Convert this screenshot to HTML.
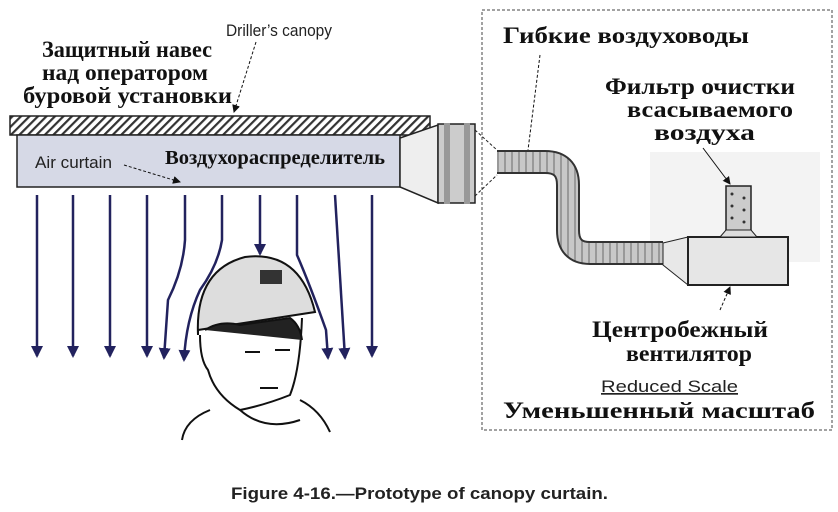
<!DOCTYPE html>
<html><head><meta charset="utf-8"><style>
body{margin:0;background:#fff;width:838px;height:512px;overflow:hidden}
svg{display:block}
.ru{font-family:"Liberation Serif","Noto Serif CJK SC",serif;font-weight:bold;fill:#111}
.en{font-family:"Liberation Sans",sans-serif;fill:#222}
</style></head><body>
<svg width="838" height="512" viewBox="0 0 838 512">
<defs>
<pattern id="h" width="6" height="6" patternUnits="userSpaceOnUse" patternTransform="rotate(45)">
<rect width="6" height="6" fill="#fff"/><rect width="2.2" height="6" fill="#333"/></pattern>
<marker id="a" markerWidth="12" markerHeight="12" refX="10" refY="6" orient="auto" markerUnits="userSpaceOnUse">
<path d="M0,0 L12,6 L0,12 Z" fill="#22225e"/></marker>
<marker id="s" markerWidth="8" markerHeight="8" refX="7" refY="4" orient="auto" markerUnits="userSpaceOnUse"><path d="M0,0 L8,4 L0,8 Z" fill="#111"/></marker>
<pattern id="rib" width="7" height="7" patternUnits="userSpaceOnUse"><rect width="7" height="7" fill="#c8c8c8"/><rect width="2" height="7" fill="#999"/></pattern>
</defs>
<g lengthAdjust="spacingAndGlyphs">
<text class="en" x="226" y="36" font-size="17" textLength="106" lengthAdjust="spacingAndGlyphs">Driller’s canopy</text>
<text class="ru" x="42" y="57" font-size="23" textLength="170" lengthAdjust="spacingAndGlyphs">Защитный навес</text>
<text class="ru" x="42" y="80" font-size="23" textLength="166" lengthAdjust="spacingAndGlyphs">над оператором</text>
<text class="ru" x="23" y="103" font-size="23" textLength="209" lengthAdjust="spacingAndGlyphs">буровой установки</text>
</g>
<line x1="256" y1="42" x2="234" y2="112" stroke="#111" stroke-dasharray="3,2" marker-end="url(#s)"/>
<rect x="10" y="116" width="420" height="19" fill="url(#h)" stroke="#222" stroke-width="1.5"/>
<rect x="17" y="135" width="383" height="52" fill="#d6d9e6" stroke="#222" stroke-width="1.5"/>
<path d="M400,138 L438,125 L438,203 L400,187 Z" fill="#eee" stroke="#222" stroke-width="1.5"/>
<rect x="438" y="124" width="37" height="79" fill="#ccc" stroke="#222" stroke-width="1.5"/>
<rect x="444" y="123" width="6" height="81" fill="#999"/><rect x="464" y="123" width="6" height="81" fill="#999"/>
<path d="M475,130 L497,150 M475,196 L497,175" stroke="#222" stroke-dasharray="3,2"/>
<text class="en" x="35" y="168" font-size="17" textLength="77" lengthAdjust="spacingAndGlyphs">Air curtain</text>
<line x1="124" y1="165" x2="180" y2="182" stroke="#111" stroke-dasharray="3,2" marker-end="url(#s)"/>
<text class="ru" x="165" y="164" font-size="20" textLength="220" lengthAdjust="spacingAndGlyphs">Воздухораспределитель</text>
<g stroke="#22225e" stroke-width="2.5" fill="none" marker-end="url(#a)">
<path d="M37,195 V356"/><path d="M73,195 V356"/><path d="M110,195 V356"/><path d="M147,195 V356"/>
<path d="M185,195 V240 Q183,270 168,300 L164,358"/>
<path d="M222,195 V240 Q218,265 200,290 Q186,320 184,360"/>
<path d="M260,195 V254"/>
<path d="M297,195 V255 Q310,285 326,330 L328,358"/>
<path d="M335,195 Q340,280 345,358"/>
<path d="M372,195 V356"/>
</g>
<g stroke="#111" stroke-width="2" fill="none">
<path d="M198,335 Q195,270 245,257 Q300,250 315,312 L198,330 Z" fill="#ddd"/>
<rect x="260" y="270" width="22" height="14" fill="#333" stroke="none"/>
<path d="M200,335 Q200,360 208,370 Q215,395 240,410 Q265,405 290,395 Q300,370 302,318"/>
<path d="M205,330 Q220,320 240,325 L290,318 Q300,325 302,340" fill="#222"/>
<path d="M210,410 Q185,420 182,440 M300,400 Q320,410 330,432 M240,410 Q265,432 300,420"/>
<path d="M245,352 h15 M275,350 h15 M260,388 h18"/>
</g>
<rect x="482" y="10" width="350" height="420" fill="none" stroke="#444" stroke-dasharray="3,2"/>
<text class="ru" x="503" y="43" font-size="23" textLength="246" lengthAdjust="spacingAndGlyphs">Гибкие воздуховоды</text>
<line x1="540" y1="55" x2="528" y2="150" stroke="#111" stroke-dasharray="3,2"/>
<text class="ru" x="605" y="94" font-size="23" textLength="190" lengthAdjust="spacingAndGlyphs">Фильтр очистки</text>
<text class="ru" x="627" y="117" font-size="23" textLength="166" lengthAdjust="spacingAndGlyphs">всасываемого</text>
<text class="ru" x="654" y="140" font-size="23" textLength="101" lengthAdjust="spacingAndGlyphs">воздуха</text>
<rect x="650" y="152" width="170" height="110" fill="#eee" opacity="0.7"/>
<path d="M497,162 H545 Q568,162 568,185 V230 Q568,253 590,253 H663" stroke="#333" stroke-width="24" fill="none"/>
<path d="M497,162 H545 Q568,162 568,185 V230 Q568,253 590,253 H663" stroke="url(#rib)" stroke-width="20" fill="none"/>
<path d="M663,243 L688,237 L688,285 L663,265 Z" fill="#e8e8e8" stroke="#222"/>
<rect x="688" y="237" width="100" height="48" fill="#e6e6e6" stroke="#222" stroke-width="2"/>
<rect x="726" y="186" width="25" height="45" fill="#ccc" stroke="#222" stroke-width="1.5"/>
<g fill="#333"><circle cx="732" cy="194" r="1.5"/><circle cx="744" cy="198" r="1.5"/><circle cx="732" cy="206" r="1.5"/><circle cx="744" cy="210" r="1.5"/><circle cx="732" cy="218" r="1.5"/><circle cx="744" cy="222" r="1.5"/></g>
<path d="M720,237 L726,230 H751 L757,237 Z" fill="#ddd" stroke="#222"/>
<line x1="703" y1="148" x2="730" y2="184" stroke="#111" marker-end="url(#s)"/>
<line x1="720" y1="310" x2="730" y2="287" stroke="#111" stroke-dasharray="3,2" marker-end="url(#s)"/>
<text class="ru" x="592" y="337" font-size="23" textLength="176" lengthAdjust="spacingAndGlyphs">Центробежный</text>
<text class="ru" x="626" y="361" font-size="23" textLength="126" lengthAdjust="spacingAndGlyphs">вентилятор</text>
<text class="en" x="601" y="392" font-size="17" textLength="137" lengthAdjust="spacingAndGlyphs" text-decoration="underline">Reduced Scale</text>
<text class="ru" x="503" y="418" font-size="23" textLength="312" lengthAdjust="spacingAndGlyphs">Уменьшенный масштаб</text>
<text x="231" y="499" font-family="Liberation Sans,sans-serif" font-weight="bold" font-size="17" fill="#222" textLength="377" lengthAdjust="spacingAndGlyphs">Figure 4-16.—Prototype of canopy curtain.</text>
</svg>
</body></html>
